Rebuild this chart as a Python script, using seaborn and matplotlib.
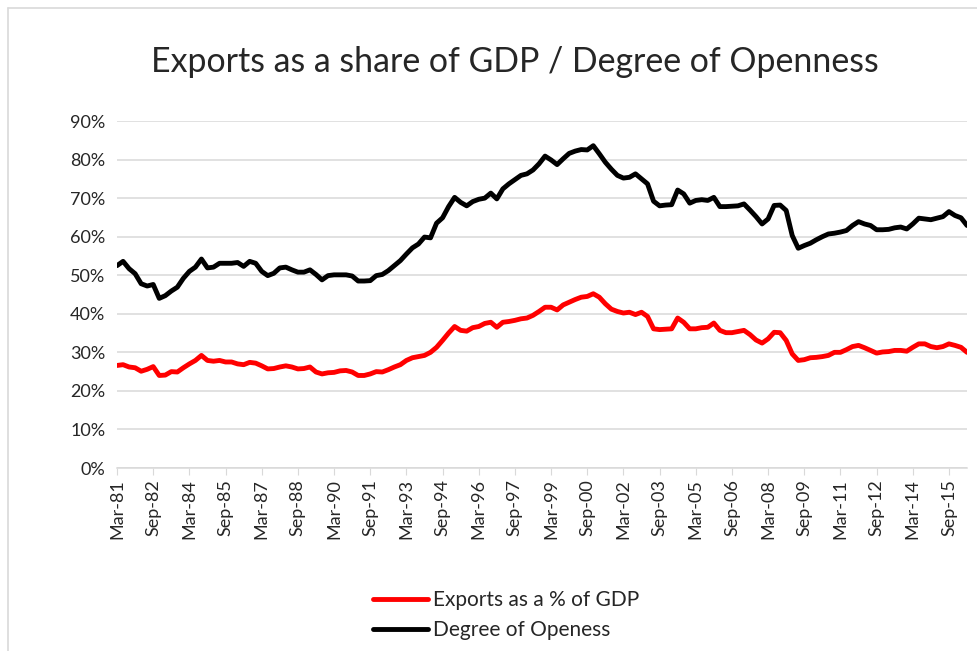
import matplotlib.pyplot as plt
import matplotlib.ticker as mticker
import numpy as np
import pandas as pd
import seaborn as sns

# Quarterly data, Mar-81 to Jun-16 (values in %)
exports_pct = [
    26.6, 26.8, 26.2, 26.0, 25.1, 25.6, 26.3, 24.0, 24.1, 25.0, 24.9, 26.0, 27.0, 27.9, 29.2, 27.9, 27.7, 27.9, 27.5, 27.5, 27.0,
    26.8, 27.4, 27.2, 26.5, 25.7, 25.8, 26.2, 26.5, 26.2, 25.7, 25.8, 26.2, 24.9, 24.4, 24.7, 24.8, 25.2, 25.3, 24.9, 24.0, 24.0,
    24.4, 25.0, 24.9, 25.5, 26.2, 26.8, 27.9, 28.6, 28.9, 29.2, 30.0, 31.3, 33.1, 35.0, 36.7, 35.7, 35.5, 36.4, 36.7, 37.5,
    37.8, 36.5, 37.8, 38.0, 38.3, 38.7, 38.9, 39.6, 40.6, 41.7, 41.7, 41.0, 42.3, 43.0, 43.7, 44.3, 44.5, 45.2, 44.3, 42.6, 41.2,
    40.6, 40.2, 40.4, 39.8, 40.4, 39.3, 36.1, 35.9, 36.0, 36.1, 38.9, 37.8, 36.1, 36.1, 36.4, 36.5, 37.6, 35.7, 35.1, 35.1,
    35.4, 35.7, 34.6, 33.2, 32.4, 33.5, 35.2, 35.1, 33.1, 29.6, 27.9, 28.1, 28.6, 28.7, 28.9, 29.2, 30.0, 30.0, 30.7, 31.5, 31.8,
    31.2, 30.5, 29.8, 30.1, 30.2, 30.5, 30.5, 30.3, 31.3, 32.2, 32.2, 31.5, 31.2, 31.5, 32.2, 31.8, 31.3, 30.0,
]
openness_pct = [
    52.5, 53.6, 51.7, 50.4, 47.8, 47.2, 47.6, 44.0, 44.7, 45.9, 46.9, 49.2, 51.0, 52.1, 54.2, 51.9, 52.1, 53.1, 53.1, 53.1, 53.3,
    52.3, 53.6, 53.1, 51.0, 49.9, 50.5, 51.9, 52.1, 51.4, 50.8, 50.8, 51.4, 50.2, 48.8, 49.9, 50.1, 50.1, 50.1, 49.8, 48.5, 48.5,
    48.6, 49.9, 50.2, 51.2, 52.5, 53.8, 55.5, 57.1, 58.1, 59.9, 59.7, 63.5, 64.9, 67.8, 70.2, 68.9, 68.0, 69.1, 69.7, 70.0,
    71.3, 69.8, 72.4, 73.7, 74.8, 75.9, 76.3, 77.3, 78.9, 80.9, 79.9, 78.7, 80.2, 81.6, 82.2, 82.6, 82.5, 83.6, 81.5, 79.3, 77.5,
    75.9, 75.2, 75.4, 76.3, 75.0, 73.7, 69.2, 68.0, 68.2, 68.3, 72.1, 71.1, 68.7, 69.4, 69.6, 69.4, 70.2, 67.8, 67.8, 67.9,
    68.0, 68.5, 66.9, 65.2, 63.3, 64.6, 68.1, 68.2, 66.8, 60.3, 57.0, 57.7, 58.3, 59.2, 60.0, 60.7, 60.9, 61.2, 61.6, 62.9, 63.9,
    63.3, 62.9, 61.8, 61.8, 61.9, 62.3, 62.5, 62.0, 63.3, 64.8, 64.6, 64.4, 64.8, 65.2, 66.5, 65.5, 64.9, 62.9,
]
quarters = pd.date_range("1981-03-01", periods=len(exports_pct), freq="3MS")
quarter_labels = [d.strftime("%b-%y") for d in quarters]

sns.set_style("white")
plt.rcParams["font.family"] = ["Lato", "DejaVu Sans"]

fig = plt.figure(figsize=(9.77, 6.51), dpi=100)
ax = fig.add_axes([0.1198, 0.2811, 0.870, 0.533])

x = np.arange(len(quarters))
sns.lineplot(x=x, y=exports_pct, ax=ax, color="#ff0000", linewidth=3.5, label="Exports as a % of GDP")
sns.lineplot(x=x, y=openness_pct, ax=ax, color="#000000", linewidth=3.5, label="Degree of Openess")

# Axes styling (Excel look)
ax.set_xlim(0, len(quarters) - 1)
ax.set_ylim(0, 90)
ax.set_yticks(range(0, 91, 10))
ax.yaxis.set_major_formatter(mticker.FuncFormatter(lambda v, p: f"{v:.0f}%"))
ax.set_xticks(x[::6])
ax.set_xticklabels(quarter_labels[::6], rotation=90)
ax.grid(axis="y", color="#d9d9d9", linewidth=1.1)
ax.set_axisbelow(True)
for side in ["left", "right", "top"]:
    ax.spines[side].set_visible(False)
ax.spines["bottom"].set_color("#d9d9d9")
ax.spines["bottom"].set_linewidth(1.1)
ax.tick_params(axis="x", bottom=True, length=5, color="#d9d9d9", labelsize=13, pad=3, colors="#d9d9d9", labelcolor="#262626")
ax.tick_params(axis="y", left=False, labelsize=13, pad=5, labelcolor="#262626")

fig.text(0.527, 0.905, "Exports as a share of GDP / Degree of Openness", ha="center", va="center", fontsize=24.4, color="#262626")

# Legend below the plot
ax.legend_.remove()
handles, labels = ax.get_legend_handles_labels()
fig.legend(handles, labels, loc="center", bbox_to_anchor=(0.518, 0.055), ncol=1, frameon=False,
           fontsize=15, handlelength=2.65, handletextpad=0.2, labelspacing=0.5)

# Chart area border
fig.add_artist(plt.Line2D([0.008, 0.008], [0, 0.988], color="#d9d9d9", linewidth=1.2))
fig.add_artist(plt.Line2D([0.008, 1], [0.988, 0.988], color="#d9d9d9", linewidth=1.2))

fig.savefig("out.png", dpi=100)
